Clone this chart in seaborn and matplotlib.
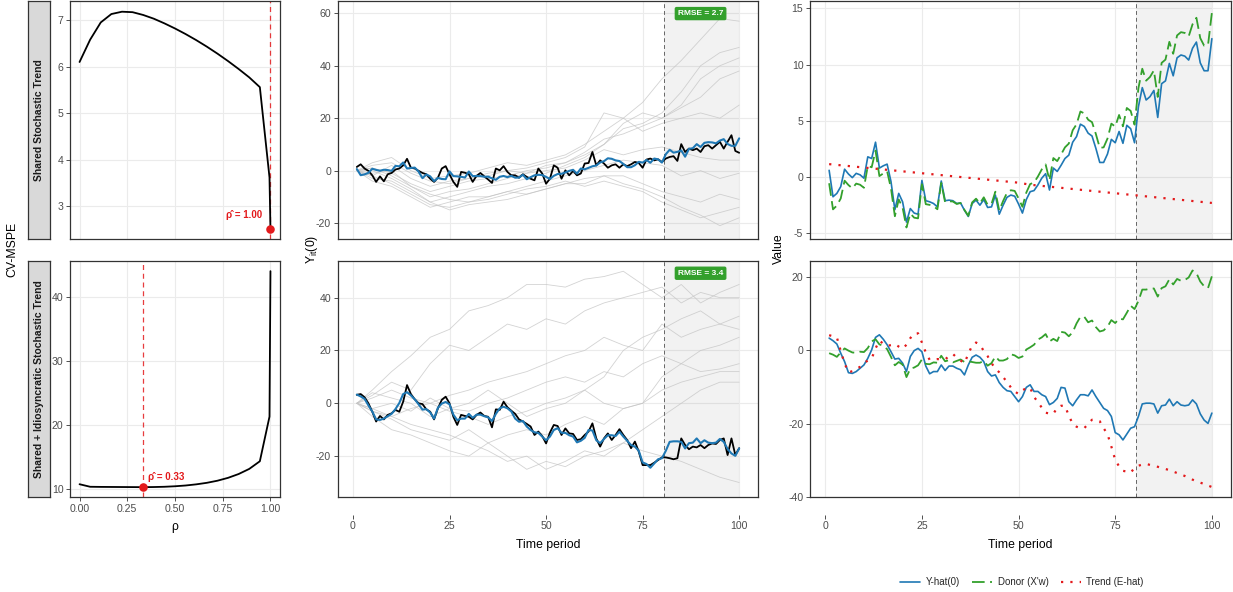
import numpy as np
import pandas as pd
import matplotlib
matplotlib.use("Agg")
import matplotlib.pyplot as plt
import seaborn as sns
from matplotlib.lines import Line2D

# ---------------- DATA ----------------
t = list(range(1, 101))
t_grid = [1, 5, 10, 15, 20, 25, 30, 35, 40, 45, 50, 55, 60, 65, 70, 75, 80, 85, 90, 95, 100]
treat_start = 80.5

rho = [0, 1/18, 2/18, 3/18, 4/18, 5/18, 6/18, 7/18, 8/18, 9/18, 10/18, 11/18,
       12/18, 13/18, 14/18, 15/18, 16/18, 17/18, 0.995, 1.0]
cv_shared = [6.10, 6.58, 6.95, 7.13, 7.18, 7.17, 7.11, 7.03, 6.93, 6.82, 6.70, 6.57,
             6.43, 6.28, 6.12, 5.95, 5.77, 5.56, 3.62, 2.52]
cv_idio = [10.7, 10.3, 10.28, 10.27, 10.26, 10.25, 10.24, 10.26, 10.3, 10.38, 10.5, 10.68,
           10.92, 11.25, 11.7, 12.3, 13.1, 14.3, 21.3, 44.1]
rho_hat = [1.00, 0.33]
rho_hat_val = [2.52, 10.24]

row_labels = ["Shared Stochastic Trend", "Shared + Idiosyncratic Stochastic Trend"]
rmse_labels = ["RMSE = 2.7", "RMSE = 3.4"]

black_top = [1.4, 2.4, 0.8, -0.1, -1.8, -4.3, -2.2, -4.1, -1.4, -0.9,
             0.4, 0.8, 2.0, 4.5, 1.1, 0.8, -0.1, -0.9, -1.4, -3.1,
             -4.3, -2.7, 0.8, 1.7, -1.4, -4.3, -6.2, -0.5, -0.8, -1.4,
             -4.3, -2.0, -0.9, -2.2, -3.4, -4.7, 0.8, 0.1, 1.7, -0.5,
             -1.8, -1.8, -2.7, -1.4, -2.4, -3.1, -3.7, 0.8, -1.1, -5.0,
             -3.1, 2.0, 1.1, -3.1, 0.1, -1.8, -0.1, -1.8, -1.1, 2.7,
             2.9, 7.1, 2.0, 3.9, 2.7, 1.1, 2.0, 2.4, 1.1, 2.4,
             1.7, 2.4, 3.3, 2.9, 1.1, 4.2, 4.6, 3.9, 4.3, 3.3,
             4.6, 5.2, 5.5, 3.7, 10.1, 7.1, 8.4, 7.8, 8.4, 7.1,
             9.3, 9.7, 8.4, 9.7, 11.0, 8.4, 11.0, 13.5, 7.5, 6.8]
yhat_top = [0.6, -1.75, -1.45, -0.85, 0.7, 0.27, -0.05, 0.33, 0.2, -0.1,
            1.8, 1.65, 3.1, 0.8, 1.0, 1.15, -0.4, -2.9, -1.45, -2.2,
            -4.0, -2.8, -3.2, -3.3, -0.3, -2.1, -2.2, -2.35, -2.65, -0.35,
            -2.1, -2.05, -2.1, -2.35, -2.3, -2.95, -3.5, -2.35, -2.05, -2.5,
            -2.0, -2.7, -2.65, -1.6, -3.3, -2.5, -1.8, -1.6, -1.7, -2.4,
            -3.2, -2.0, -1.3, -1.2, -0.7, -0.1, 0.3, -1.15, 0.8, 0.5,
            1.05, 1.65, 1.95, 3.1, 3.6, 4.7, 4.5, 3.9, 3.65, 2.55,
            1.3, 1.3, 2.05, 3.35, 3.05, 4.05, 3.0, 4.6, 4.3, 3.05,
            6.25, 7.95, 6.85, 7.15, 7.7, 5.3, 8.3, 8.55, 10.1, 9.0,
            10.6, 10.85, 10.75, 10.4, 11.45, 12.0, 10.15, 9.45, 9.45, 12.3]
donor_top = [-0.55, -2.87, -2.53, -1.9, -0.32, -0.71, -1.0, -0.58, -0.68, -0.95,
             0.99, 0.87, 2.35, 0.09, 0.32, 0.51, -1.01, -3.48, -1.99, -2.71,
             -4.48, -3.24, -3.61, -3.67, -0.64, -2.41, -2.47, -2.59, -2.86, -0.52,
             -2.24, -2.15, -2.17, -2.39, -2.3, -2.92, -3.44, -2.25, -1.92, -2.34,
             -1.8, -2.47, -2.38, -1.3, -2.97, -2.13, -1.4, -1.17, -1.23, -1.9,
             -2.64, -1.38, -0.62, -0.49, 0.05, 0.68, 1.12, -0.3, 1.69, 1.42,
             2.01, 2.64, 2.98, 4.16, 4.69, 5.83, 5.66, 5.1, 4.88, 3.82,
             2.6, 2.64, 3.42, 4.75, 4.49, 5.52, 4.51, 6.14, 5.88, 4.66,
             7.9, 9.63, 8.57, 8.9, 9.48, 7.12, 10.15, 10.44, 12.02, 10.96,
             12.59, 12.88, 12.81, 12.5, 13.58, 14.16, 12.35, 11.68, 11.72, 14.6]
trend_top_t = [1, 50, 53, 100]
trend_top = [1.15, -0.5, -0.68, -2.3]

black_bot = [3.2, 3.5, 2.3, 0.0, -3.2, -6.9, -4.8, -6.1, -4.4, -3.8,
             -2.5, -3.2, 0.6, 6.9, 3.5, 1.5, 0.0, -0.3, -2.3, -3.2,
             -6.1, -1.9, 1.3, 2.5, 0.0, -5.1, -8.2, -4.4, -4.8, -5.1,
             -6.1, -4.4, -3.5, -4.8, -5.1, -9.1, -2.3, -2.5, 0.6, -1.5,
             -2.8, -4.0, -6.1, -6.9, -7.8, -8.8, -12.0, -10.7, -12.4, -15.2,
             -11.1, -8.2, -8.6, -12.0, -9.5, -11.4, -11.6, -13.9, -13.6, -12.0,
             -10.7, -7.6, -13.3, -16.4, -13.3, -11.4, -13.9, -12.0, -9.8, -12.0,
             -13.9, -17.0, -14.5, -18.3, -23.4, -23.4, -23.4, -22.5, -21.5, -20.5,
             -20.5, -20.8, -21.2, -20.8, -13.3, -15.8, -17.4, -16.4, -16.7, -15.8,
             -17.0, -15.8, -15.2, -15.4, -13.9, -13.3, -19.6, -13.3, -19.6, -17.0]
yhat_bot = [3.3, 2.6, 1.7, -0.8, -3.1, -6.1, -6.3, -5.8, -4.9, -4.0,
            -2.2, 0.1, 3.5, 4.2, 3.0, 1.5, -0.4, -2.4, -2.2, -3.5,
            -5.8, -1.7, -0.1, 0.5, -0.4, -4.3, -6.4, -5.8, -5.8, -4.0,
            -5.5, -4.3, -4.3, -4.9, -5.3, -6.7, -4.0, -1.9, -1.3, -1.9,
            -3.1, -5.8, -7.0, -6.7, -8.8, -10.1, -11.0, -11.2, -12.6, -14.0,
            -12.6, -10.1, -9.4, -11.2, -11.2, -12.1, -12.6, -14.8, -14.2, -13.1,
            -10.1, -10.3, -14.0, -15.1, -13.5, -12.1, -12.1, -12.4, -10.8, -12.6,
            -14.2, -15.8, -16.4, -18.0, -22.4, -23.0, -24.4, -22.8, -21.2, -20.8,
            -18.0, -14.6, -14.4, -14.4, -14.6, -17.1, -15.1, -14.9, -13.3, -15.1,
            -14.0, -14.9, -15.1, -14.9, -13.5, -14.6, -17.3, -19.0, -19.9, -17.1]
donor_bot = [-0.8, -1.2, -1.8, -0.6, 0.5, -0.1, -0.6, -0.7, -0.4, -0.5,
             0.6, 2.4, 3.0, 1.6, 1.2, 0.3, -1.8, -4.1, -3.2, -3.9,
             -7.3, -5.0, -4.7, -4.1, -2.5, -3.7, -3.8, -3.3, -3.4, -1.5,
             -3.0, -2.7, -3.3, -2.9, -2.5, -3.2, -3.0, -3.2, -3.4, -3.4,
             -2.9, -4.2, -3.5, -1.7, -2.8, -2.8, -2.4, -1.1, -1.4, -2.1,
             -1.7, 0.2, 0.8, 1.5, 2.9, 3.5, 4.4, 2.4, 3.1, 2.5,
             5.0, 4.8, 3.8, 4.9, 7.3, 9.1, 9.1, 7.6, 8.1, 6.3,
             5.1, 5.4, 6.4, 8.2, 7.4, 8.6, 8.4, 10.2, 12.1, 11.2,
             13.4, 16.5, 16.5, 16.8, 16.8, 14.6, 16.9, 17.4, 19.3, 17.9,
             19.4, 18.9, 19.1, 19.8, 21.7, 21.0, 18.7, 17.4, 16.9, 20.1]
trend_bot = [4.1, 3.8, 3.5, -0.2, -3.6, -6.0, -5.7, -5.1, -4.5, -3.5,
             -2.8, -2.3, 0.5, 2.6, 1.8, 1.2, 1.4, 1.7, 1.0, 0.4,
             1.5, 3.3, 4.6, 4.6, 2.1, -0.6, -2.6, -2.5, -2.4, -2.5,
             -2.5, -1.6, -1.0, -2.0, -2.8, -3.5, -1.0, 1.3, 2.1, 1.5,
             -0.2, -1.6, -3.5, -5.0, -6.0, -7.3, -8.6, -10.1, -11.2, -11.9,
             -10.9, -10.3, -10.2, -12.7, -14.1, -15.6, -17.0, -17.2, -17.3, -15.6,
             -15.1, -15.1, -17.8, -20.0, -20.8, -21.2, -21.2, -20.0, -18.9, -18.9,
             -19.3, -21.2, -22.8, -26.2, -29.8, -31.6, -32.8, -33.0, -33.3, -32.0,
             -31.4, -31.1, -30.9, -31.2, -31.4, -31.7, -32.0, -32.3, -32.6, -33.0,
             -33.4, -33.8, -34.2, -34.7, -35.2, -35.6, -36.0, -36.4, -36.8, -37.2]

donors_top = {
    "A": [0, 3, 5, 0, -3, -2, -1, 1, 3, 2, 4, 6, 10, 15, 20, 26, 35, 42, 50, 58, 57],
    "B": [0, -2, 2, -3, -6, -4, -3, -2, 0, -1, 2, 3, 6, 10, 16, 18, 22, 30, 40, 45, 47],
    "C": [0, 1, -1, -5, -8, -6, -4, -3, -2, 0, 1, 3, 7, 12, 14, 17, 20, 25, 35, 40, 43],
    "D": [0, -3, -4, -8, -12, -10, -8, -6, -5, -3, -1, 2, 5, 10, 18, 22, 20, 24, 28, 35, 38],
    "E": [0, 2, 3, -1, -4, -5, -3, -1, 0, 1, 3, 5, 9, 22, 20, 15, 18, 20, 22, 20, 25],
    "F": [0, -1, 0, -6, -10, -8, -7, -5, -3, -1, 0, 1, 4, 8, 6, 8, 9, 7, 5, 4, 4],
    "G": [0, -4, -6, -10, -14, -12, -10, -10, -8, -6, -4, -2, 0, 2, 4, 3, 2, -2, 0, -3, -1],
    "H": [0, 1, -2, -6, -9, -11, -12, -10, -8, -9, -7, -5, -5, -2, -2, -5, -8, -10, -12, -9, -11],
    "I": [0, -2, -5, -9, -13, -14, -12, -11, -9, -7, -6, -4, -6, -4, -6, -8, -12, -15, -18, -16, -14],
    "J": [0, 0, -3, -7, -12, -15, -13, -12, -11, -9, -7, -5, -3, -2, -5, -7, -10, -14, -17, -21, -18],
}
donors_bot = {
    "A": [0, 5, 12, 18, 25, 28, 35, 37, 40, 45, 45, 44, 47, 48, 50, 45, 40, 45, 38, 42, 45],
    "B": [0, 3, 8, 5, 15, 22, 20, 25, 30, 28, 32, 30, 35, 38, 40, 42, 44, 38, 42, 40, 40],
    "C": [0, 2, 5, 2, 0, 3, 5, 8, 10, 12, 15, 18, 20, 25, 22, 20, 30, 25, 28, 30, 33],
    "D": [0, -2, 0, -3, 2, -2, 0, 5, 0, -5, -2, 0, 5, 10, 20, 25, 28, 32, 35, 30, 28],
    "E": [0, -3, -5, -2, 0, -3, -5, -8, -5, -3, 0, 2, 5, 0, -2, 0, 10, 15, 20, 22, 25],
    "F": [0, 4, 2, 0, -5, -2, -3, 0, 2, 5, 8, 10, 8, 12, 10, 15, 18, 15, 12, 13, 15],
    "G": [0, -5, -10, -12, -15, -18, -20, -15, -12, -10, -12, -8, -5, -8, -2, 0, 5, 8, 10, 12, 12],
    "H": [0, -2, -5, -8, -10, -12, -15, -18, -22, -20, -25, -22, -18, -20, -15, -10, -5, 0, 5, 8, 8],
    "I": [0, -3, -6, -10, -12, -14, -10, -15, -20, -25, -22, -24, -20, -18, -15, -18, -20, -22, -25, -28, -30],
}

legend_labels = ["Y-hat(0)", "Donor (X'w)", "Trend (E-hat)"]

# ---------------- STYLE ----------------
sns.set_theme(style="white")
plt.rcParams['font.family'] = ['Liberation Sans', 'DejaVu Sans']
plt.rcParams['mathtext.default'] = 'regular'

BLUE = "#1F78B4"
GREEN = "#33A02C"
RED = "#E31A1C"
GRID = "#EBEBEB"
BORDER = "#333333"
TICKC = "#4D4D4D"
TICKSIZE = 7.6

W, H = 1233, 592
fig = plt.figure(figsize=(W / 100, H / 100), dpi=100)


def fx(px):
    return px / W


def fy(py):
    return 1 - py / H


def make_ax(x0, x1, y0, y1):
    return fig.add_axes([fx(x0), fy(y1), fx(x1) - fx(x0), (y1 - y0) / H])


def style(ax, xlim, ylim, xticks, yticks, xlabels=None):
    ax.set_xlim(*xlim)
    ax.set_ylim(*ylim)
    ax.set_xticks(xticks)
    ax.set_yticks(yticks)
    ax.set_yticklabels([f"{v:g}" for v in yticks])
    ax.grid(True, color=GRID, linewidth=0.8)
    ax.set_axisbelow(True)
    for s in ax.spines.values():
        s.set_color(BORDER)
        s.set_linewidth(0.9)
        s.set_visible(True)
    ax.tick_params(axis='both', which='major', length=2.8, width=0.6, color=BORDER,
                   labelcolor=TICKC, labelsize=TICKSIZE, pad=2, left=True, bottom=True)
    if xlabels is None:
        ax.tick_params(axis='x', length=0, labelbottom=False)
    else:
        ax.set_xticklabels(xlabels)
    ax.set_xlabel("")
    ax.set_ylabel("")


def add_time_axis(ax):
    sec = ax.secondary_xaxis(-0.073)
    sec.set_xticks([0, 25, 50, 75, 100])
    sec.spines['bottom'].set_visible(False)
    sec.tick_params(length=2.8, width=0.6, color=BORDER, labelcolor=TICKC, labelsize=TICKSIZE, pad=2)


rows = [(1, 238.5), (260.7, 497.3)]
LEFT = (70, 280)
MID = (337.7, 758.3)
RIGHT = (810, 1231)

# ---------------- LEFT COLUMN ----------------
cv_data = [cv_shared, cv_idio]
left_ylims = [(2.31, 7.41), (8.65, 45.74)]
left_yticks = [[3, 4, 5, 6, 7], [10, 20, 30, 40]]
for i, (y0, y1) in enumerate(rows):
    ax = make_ax(LEFT[0], LEFT[1], y0, y1)
    df = pd.DataFrame({"rho": rho, "cv": cv_data[i]})
    ax.axvline(rho_hat[i], color=RED, linestyle=(0, (4, 3)), linewidth=0.9, alpha=0.85, zorder=2)
    sns.lineplot(data=df, x="rho", y="cv", ax=ax, color="black", linewidth=1.3,
                 estimator=None, sort=False, zorder=3)
    sns.scatterplot(x=[rho_hat[i]], y=[rho_hat_val[i]], ax=ax, color=RED, s=38,
                    edgecolor=RED, linewidth=0, zorder=4)
    xl = ["0.00", "0.25", "0.50", "0.75", "1.00"] if i == 1 else None
    style(ax, (-0.05, 1.05), left_ylims[i], [0, 0.25, 0.5, 0.75, 1.0], left_yticks[i], xl)
    lab = "ρ\u0302 = %.2f" % rho_hat[i]
    if i == 0:
        ax.annotate(lab, (rho_hat[i], rho_hat_val[i]), xytext=(-6, 6), textcoords="offset points",
                    ha="right", va="bottom", color=RED, fontsize=7, fontweight="bold")
    else:
        ax.annotate(lab, (rho_hat[i], rho_hat_val[i]), xytext=(4, 4), textcoords="offset points",
                    ha="left", va="bottom", color=RED, fontsize=7, fontweight="bold")
    # facet strip
    sax = make_ax(27.7, 50, y0, y1)
    sax.set_facecolor("#D9D9D9")
    sax.set_xticks([])
    sax.set_yticks([])
    for s in sax.spines.values():
        s.set_color(BORDER)
        s.set_linewidth(0.9)
        s.set_visible(True)
    sax.text(0.5, 0.5, row_labels[i], rotation=90, ha="center", va="center",
             transform=sax.transAxes, fontsize=7.5, fontweight="bold", color="#1A1A1A")

# ---------------- MIDDLE COLUMN ----------------
mid_black = [black_top, black_bot]
mid_blue = [yhat_top, yhat_bot]
mid_donors = [donors_top, donors_bot]
mid_ylims = [(-25.9, 64.7), (-35.6, 54.0)]
mid_yticks = [[-20, 0, 20, 40, 60], [-20, 0, 20, 40]]
for i, (y0, y1) in enumerate(rows):
    ax = make_ax(MID[0], MID[1], y0, y1)
    ax.axvspan(treat_start, 100, color="black", alpha=0.05, linewidth=0, zorder=1)
    long = pd.DataFrame([(k, tt, v) for k, vals in mid_donors[i].items()
                         for tt, v in zip(t_grid, vals)], columns=["unit", "t", "y"])
    sns.lineplot(data=long, x="t", y="y", units="unit", estimator=None, ax=ax,
                 color="#C4C4C4", linewidth=0.6, alpha=0.75, zorder=2)
    ax.axvline(treat_start, color="#666666", linestyle=(0, (4, 3)), linewidth=0.7, zorder=3)
    sns.lineplot(x=t, y=mid_black[i], ax=ax, color="black", linewidth=1.3, estimator=None, zorder=4)
    sns.lineplot(x=t, y=mid_blue[i], ax=ax, color=BLUE, linewidth=1.5, estimator=None, zorder=5)
    style(ax, (-3.95, 104.95), mid_ylims[i], [0, 25, 50, 75, 100], mid_yticks[i], None)
    ax.text(90, 0.947, rmse_labels[i], transform=ax.get_xaxis_transform(), ha="center",
            va="center", color="white", fontsize=6, fontweight="bold", zorder=6,
            bbox=dict(boxstyle="round,pad=0.3,rounding_size=0.15", fc=GREEN, ec=GREEN))
    if i == 1:
        add_time_axis(ax)

# ---------------- RIGHT COLUMN ----------------
r_blue = [yhat_top, yhat_bot]
r_green = [donor_top, donor_bot]
r_red_t = [trend_top_t, t]
r_red = [trend_top, trend_bot]
right_ylims = [(-5.46, 15.65), (-40, 24.36)]
right_yticks = [[-5, 0, 5, 10, 15], [-40, -20, 0, 20]]
for i, (y0, y1) in enumerate(rows):
    ax = make_ax(RIGHT[0], RIGHT[1], y0, y1)
    ax.axvspan(treat_start, 100, color="black", alpha=0.05, linewidth=0, zorder=1)
    ax.axvline(treat_start, color="#666666", linestyle=(0, (4, 3)), linewidth=0.7, zorder=2)
    sns.lineplot(x=t, y=r_blue[i], ax=ax, color=BLUE, linewidth=1.2, estimator=None, zorder=3)
    sns.lineplot(x=t, y=r_green[i], ax=ax, color=GREEN, linewidth=1.3, estimator=None, zorder=4,
                 linestyle=(0, (7, 3)))
    sns.lineplot(x=r_red_t[i], y=r_red[i], ax=ax, color=RED, linewidth=1.6, estimator=None, zorder=5,
                 linestyle=(0, (1, 3.2)))
    style(ax, (-3.95, 104.95), right_ylims[i], [0, 25, 50, 75, 100], right_yticks[i], None)
    if i == 1:
        add_time_axis(ax)

# ---------------- LABELS ----------------
fig.text(fx(12), fy(249), "CV-MSPE", rotation=90, ha="center", va="center", fontsize=8.8, color="black")
fig.text(fx(312), fy(249), r"$Y_{it}(0)$", rotation=90, ha="center", va="center", fontsize=8.8, color="black")
fig.text(fx(779), fy(249), "Value", rotation=90, ha="center", va="center", fontsize=8.8, color="black")
fig.text(fx(175), fy(527), "ρ", ha="center", va="center", fontsize=8.8, color="black")
fig.text(fx(548), fy(545), "Time period", ha="center", va="center", fontsize=8.8, color="black")
fig.text(fx(1020), fy(545), "Time period", ha="center", va="center", fontsize=8.8, color="black")

handles = [Line2D([0], [0], color=BLUE, linewidth=1.2),
           Line2D([0], [0], color=GREEN, linewidth=1.3, linestyle=(0, (7, 3))),
           Line2D([0], [0], color=RED, linewidth=1.6, linestyle=(0, (1, 3.2)))]
fig.legend(handles, legend_labels, loc="center", bbox_to_anchor=(fx(1022), fy(582)), ncol=3,
           frameon=False, fontsize=7, handlelength=2.0, handletextpad=0.6, columnspacing=1.3)

fig.savefig("out.png", dpi=100)
